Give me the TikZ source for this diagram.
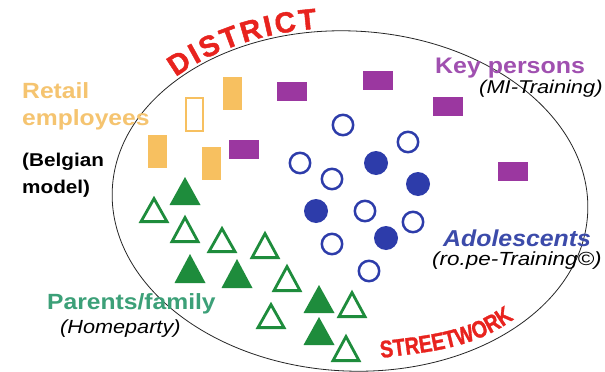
\documentclass[tikz,border=0pt]{standalone}
\usepackage{fontspec}
\setmainfont{Liberation Sans}
\newfontfamily\condfont{Liberation Sans}[FakeStretch=0.82, FakeBold=1.2]
\newfontfamily\heavyfont{Liberation Sans}[FakeBold=1.5]
\usetikzlibrary{decorations.text}
\definecolor{distred}{HTML}{E8231E}
\definecolor{orng}{HTML}{F7C060}
\definecolor{orngtxt}{HTML}{F5C470}
\definecolor{purp}{HTML}{9B37A0}
\definecolor{purptxt}{HTML}{A050B0}
\definecolor{blu}{HTML}{2D3CAA}
\definecolor{blutxt}{HTML}{3C4BAA}
\definecolor{trigreen}{HTML}{1E8C3C}
\definecolor{greentxt}{HTML}{3CA078}
\tikzset{
  lbl/.style={anchor=base west, inner sep=0pt, xscale=1.12},
  sub/.style={anchor=base west, inner sep=0pt, xscale=1.18, font=\itshape\fontsize{19}{19}\selectfont, text=black},
  opentri/.style={draw=trigreen, line width=2.8pt},
  opencirc/.style={draw=blu, line width=2.5pt},
}
\begin{document}
\begin{tikzpicture}[x=1pt,y=-1pt]
\useasboundingbox (0,0) rectangle (605,372);
\clip (0,0) rectangle (605,372);
\fill[white] (0,0) rectangle (605,372);
% ellipse and DISTRICT
\begin{scope}[shift={(350,201)}, rotate=-3, y=1pt]
  \draw[line width=0.8pt, black!85] (0,0) ellipse [x radius=238pt, y radius=170pt];
  \path[decorate, decoration={text along path,
      text={|\heavyfont\bfseries\fontsize{29}{29}\selectfont|DISTRICT},
      text color=distred, text align=fit to path}]
    (138.5:241pt and 173pt) arc [start angle=138.5, end angle=100, x radius=241pt, y radius=173pt];
\end{scope}
\path[decorate, decoration={text along path,
    text={|\condfont\bfseries\fontsize{24}{24}\selectfont|STREETWORK},
    text color=distred, text align=fit to path}]
  (381,358) .. controls (428,352) and (473,349) .. (514,319);
% orange rectangles
\fill[orng] (223,77) rectangle (242,110);
\fill[orng] (148,135) rectangle (167,168);
\fill[orng] (202,147) rectangle (221,180);
\draw[orng, line width=2.2pt] (186,98) rectangle (203,131);
% purple rectangles
\foreach \xa/\ya in {229/140, 277/82, 363/71, 433/97, 498/162}
  \fill[purp] (\xa,\ya) rectangle (\xa+30,\ya+19);
% blue circles
\foreach \cx/\cy in {343/125, 408/142, 300/163, 332/179, 365/211, 413/222, 332/244, 369/271}
  \draw[opencirc] (\cx,\cy) circle [radius=10.2pt];
\foreach \cx/\cy in {376/163, 418/184, 316/211, 386/238}
  \fill[blu] (\cx,\cy) circle [radius=12pt];
% green triangles
\foreach \cx/\ya/\yb in {185/177/205, 190/254/283, 237/259/288, 319/285/313, 319/317/345}
  \fill[trigreen] (\cx-15.5,\yb) -- (\cx,\ya) -- (\cx+15.5,\yb) -- cycle;
\foreach \cx/\ya/\yb in {154/196/223, 185/215/243, 222/226/253, 265/231/259, 287/264/292, 352/290/318, 271/302/329, 346/334/362}
  \draw[opentri] (\cx-13,\yb-1.4) -- (\cx,\ya+2.6) -- (\cx+13,\yb-1.4) -- cycle;
% labels
\node[lbl, text=orngtxt, font=\bfseries\fontsize{22}{22}\selectfont] (retail) at (22,98) {Retail};
\node[lbl, text=orngtxt, font=\bfseries\fontsize{22}{22}\selectfont] (employees) at (22,125) {employees};
\node[lbl, text=black, font=\bfseries\fontsize{18.5}{18.5}\selectfont] (belgian) at (22,166) {(Belgian};
\node[lbl, text=black, font=\bfseries\fontsize{18.5}{18.5}\selectfont] (model) at (22,193) {model)};
\node[lbl, xscale=0.99, text=purptxt, font=\bfseries\fontsize{22.5}{22.5}\selectfont] (key) at (435,73) {Key persons};
\node[sub, font=\itshape\fontsize{18.5}{18.5}\selectfont] (mi) at (479,93) {(MI-Training)};
\node[lbl, xscale=0.965, text=blutxt, font=\bfseries\itshape\fontsize{23}{23}\selectfont] (adol) at (443,246) {Adolescents};
\node[sub] (rope) at (432,265) {(ro.pe-Training©)};
\node[lbl, text=greentxt, font=\bfseries\fontsize{22}{22}\selectfont] (parents) at (47,309) {Parents/family};
\node[sub, xscale=0.966] (home) at (60,333) {(Homeparty)};
\end{tikzpicture}
\end{document}
